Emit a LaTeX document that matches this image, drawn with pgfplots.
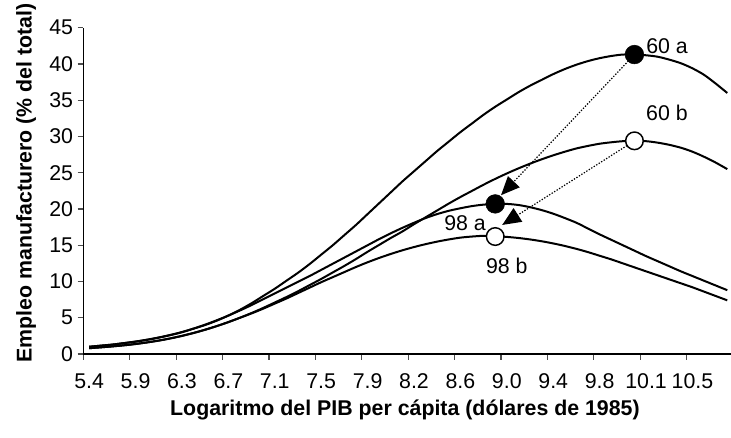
\documentclass[border=0pt]{standalone}
\usepackage{pgfplots}
\pgfplotsset{compat=1.18}
\usepackage{pgfplotstable}
\usepackage{fontspec}
\setmainfont{Liberation Sans}
\usetikzlibrary{arrows.meta}

\pgfplotstableread{
k a60 b60 a98 b98
0 1.0 0.8 1.0 0.8
1 1.15 0.92 1.15 0.92
2 1.3 1.05 1.3 1.05
3 1.5 1.2 1.5 1.2
4 1.7 1.38 1.72 1.38
5 1.95 1.6 1.98 1.6
6 2.25 1.85 2.28 1.85
7 2.6 2.15 2.63 2.15
8 3.0 2.5 3.03 2.5
9 3.5 2.9 3.5 2.9
10 4.0 3.35 4.05 3.35
11 4.6 3.85 4.65 3.85
12 5.3 4.4 5.3 4.4
13 6.1 5.0 6.0 5.0
14 7.0 5.65 6.75 5.6
15 8.0 6.35 7.55 6.25
16 9.0 7.1 8.35 6.95
17 10.1 7.85 9.15 7.65
18 11.2 8.65 9.95 8.4
19 12.4 9.5 10.75 9.15
20 13.7 10.35 11.6 9.9
21 15.0 11.25 12.45 10.6
22 16.4 12.15 13.3 11.3
23 17.8 13.1 14.15 12.0
24 19.3 14.1 15.0 12.65
25 20.8 15.05 15.85 13.25
26 22.3 16.0 16.65 13.8
27 23.8 16.9 17.4 14.3
28 25.2 17.9 18.1 14.75
29 26.6 18.85 18.75 15.15
30 28.0 19.8 19.3 15.5
31 29.3 20.75 19.75 15.8
32 30.6 21.65 20.1 16.05
33 31.8 22.5 20.4 16.2
34 33.0 23.35 20.6 16.3
35 34.1 24.15 20.7 16.25
36 35.1 24.9 20.7 16.15
37 36.1 25.6 20.55 16.0
38 37.0 26.25 20.25 15.8
39 37.8 26.85 19.85 15.55
40 38.6 27.4 19.35 15.25
41 39.3 27.9 18.75 14.9
42 39.9 28.35 18.1 14.5
43 40.4 28.7 17.3 14.05
44 40.8 29.0 16.5 13.55
45 41.1 29.2 15.75 13.05
46 41.3 29.35 15.0 12.5
47 41.3 29.4 14.25 11.95
48 41.2 29.35 13.5 11.4
49 41.0 29.15 12.8 10.85
50 40.6 28.85 12.1 10.3
51 40.1 28.45 11.4 9.75
52 39.4 27.9 10.75 9.2
53 38.5 27.2 10.1 8.6
54 37.3 26.4 9.45 8.0
55 36.0 25.5 8.8 7.4
}\datatable

\begin{document}
\begin{tikzpicture}
\begin{axis}[
  scale only axis,
  width=487.3pt, height=244.7pt,
  xmin=-0.5, xmax=55.5,
  ymin=0, ymax=45,
  axis lines=left,
  axis line style={-, line width=0.8pt},
  tick align=outside,
  major tick length=4.2pt,
  tick style={line width=0.8pt, color=black!70},
  xtick={-0.5,3.5,...,51.5},
  xticklabels={5.4,5.9,6.3,6.7,7.1,7.5,7.9,8.2,8.6,9.0,9.4,9.8,10.1,10.5},
  ytick={0,5,...,45},
  /pgf/number format/assume math mode=true,
  tick label style={font=\fontsize{16}{19}\selectfont},
  xticklabel style={xshift=4.35pt, yshift=-7pt},
  label style={font=\fontsize{16}{19}\selectfont\bfseries},
  xlabel={Logaritmo del PIB per cápita (dólares de 1985)},
  ylabel={Empleo manufacturero (\% del total)},
  xlabel style={at={(axis description cs:0.495,-0.172)}, anchor=center},
  ylabel style={at={(axis description cs:-0.088,0.524)}, anchor=center},
]
\addplot[black, line width=1.5pt, smooth] table[x=k, y=a60] {\datatable};
\addplot[black, line width=1.5pt, smooth] table[x=k, y=b60] {\datatable};
\addplot[black, line width=1.5pt, smooth] table[x=k, y=a98] {\datatable};
\addplot[black, line width=1.5pt, smooth] table[x=k, y=b98] {\datatable};
\addplot[black, line width=0.9pt, dash pattern=on 1pt off 1.2pt, -{Triangle[length=14pt, width=12pt]}] coordinates {(47,41.3) (35.5,21.9)};
\addplot[black, line width=0.9pt, dash pattern=on 1pt off 1.2pt, -{Triangle[length=14pt, width=12pt]}] coordinates {(47,29.4) (35.6,17.8)};
\addplot[only marks, mark=*, mark size=7pt, mark options={fill=black, draw=black}] coordinates {(47,41.3) (35,20.7)};
\addplot[only marks, mark=*, mark size=6.6pt, mark options={fill=white, draw=black, line width=1.1pt}] coordinates {(47,29.4) (35,16.2)};
\node[font=\fontsize{16}{19}\selectfont, anchor=west, inner sep=0pt] at (axis cs:48.0,42.5) {60 a};
\node[font=\fontsize{16}{19}\selectfont, inner sep=0pt] at (axis cs:49.8,33.3) {60 b};
\node[font=\fontsize{16}{19}\selectfont, inner sep=0pt] at (axis cs:32.4,18.1) {98 a};
\node[font=\fontsize{16}{19}\selectfont, inner sep=0pt] at (axis cs:36.0,12.1) {98 b};
\end{axis}
\pgfresetboundingbox
\path[use as bounding box] (current axis.south west) ++(-62.5pt,-63pt) rectangle ++(548.25pt,328.5pt);
\end{tikzpicture}
\end{document}
